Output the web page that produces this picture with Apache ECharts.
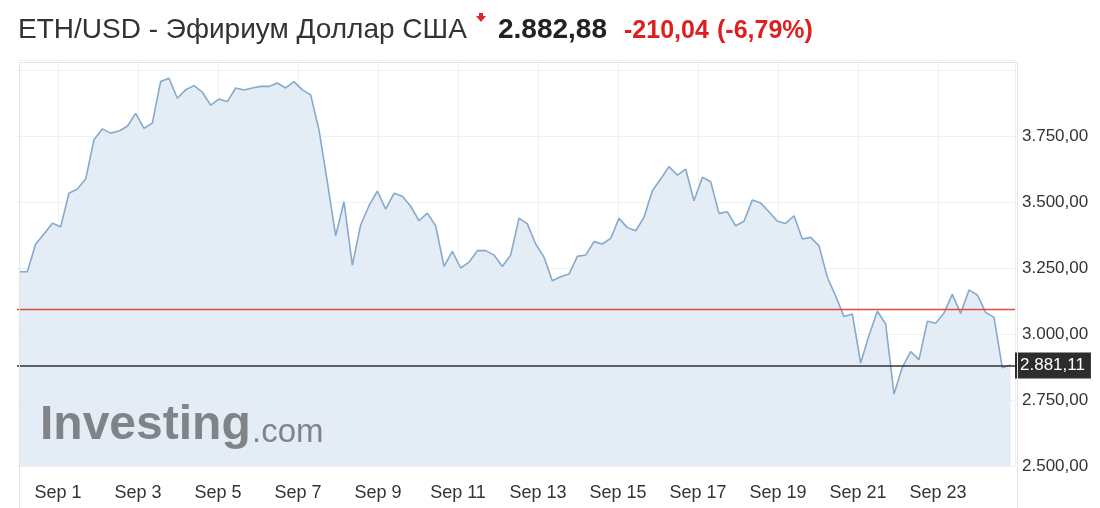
<!DOCTYPE html>
<html>
<head>
<meta charset="utf-8">
<script src="https://cdn.jsdelivr.net/npm/echarts@6/dist/echarts.min.js"></script>
<style>
html,body{margin:0;padding:0;background:#fff;}
#c{width:1100px;height:508px;}
</style>
</head>
<body>
<div id="c"></div>
<script>
// ---- data ----
const titleText = 'ETH/USD - Эфириум Доллар США';
const lastPrice = 2882.88;
const change = -210.04;
const changePct = -6.79;
const prevClose = 3092.92;
const currentLine = 2881.11;

// samples every 5 hours; x = days since Sep 1 00:00
const startDay = -0.975;
const stepDays = 5 / 24;
const prices = [
  3236, 3236, 3341, 3379, 3420, 3406, 3533, 3549, 3587, 3736,
  3777, 3761, 3769, 3787, 3836, 3779, 3799, 3957, 3969, 3893,
  3925, 3941, 3916, 3867, 3890, 3880, 3932, 3924, 3932, 3938,
  3938, 3951, 3932, 3956, 3925, 3906, 3773, 3576, 3372, 3501,
  3261, 3413, 3486, 3541, 3473, 3533, 3522, 3484, 3429, 3458,
  3410, 3256, 3313, 3250, 3272, 3316, 3316, 3299, 3256, 3299,
  3439, 3417, 3341, 3291, 3202, 3217, 3227, 3294, 3299, 3350,
  3341, 3362, 3438, 3403, 3391, 3442, 3543, 3587, 3634, 3602,
  3625, 3505, 3594, 3577, 3457, 3463, 3410, 3427, 3508, 3496,
  3463, 3427, 3419, 3448, 3360, 3366, 3334, 3215, 3144, 3066,
  3076, 2890, 2994, 3086, 3038, 2773, 2874, 2933, 2903, 3048,
  3041, 3080, 3150, 3078, 3167, 3148, 3082, 3063, 2872, 2883
];
const monthLabel = 'Sep';
const yTicks = [2500, 2750, 3000, 3250, 3500, 3750];

// ---- helpers ----
function fmt(v) {
  const s = Math.abs(v).toFixed(2);
  const parts = s.split('.');
  const int = parts[0].replace(/\B(?=(\d{3})+(?!\d))/g, '.');
  return (v < 0 ? '-' : '') + int + ',' + parts[1];
}
const FONT = '"Liberation Sans", Arial, sans-serif';
const seriesData = prices.map((p, i) => [startDay + i * stepDays, p]);
const RED = '#dc4a45';

const chart = echarts.init(document.getElementById('c'));
chart.setOption({
  animation: false,
  backgroundColor: '#fff',
  textStyle: { fontFamily: FONT },
  grid: { left: -22, right: 85, top: 60, bottom: 42, containLabel: false, outerBoundsMode: 'none' },
  xAxis: {
    type: 'value',
    min: -2,
    max: 23.925,
    interval: 2,
    axisLine: { show: false },
    axisTick: { show: false },
    axisLabel: {
      color: '#333', fontSize: 18, margin: 18, fontFamily: FONT,
      formatter: function (v) {
        if (v < 0 || Math.abs(v - Math.round(v)) > 1e-6) return '';
        return monthLabel + ' ' + (Math.round(v) + 1);
      }
    },
    splitLine: { show: true, lineStyle: { color: '#eef1f4', width: 1 } }
  },
  yAxis: {
    type: 'value',
    position: 'right',
    min: 2500,
    max: 4038,
    interval: 250,
    axisLine: { show: false },
    axisTick: { show: false },
    axisLabel: {
      color: '#333', fontSize: 17, margin: 7, fontFamily: FONT,
      formatter: function (v) {
        return yTicks.indexOf(v) >= 0 ? fmt(v) : '';
      }
    },
    splitLine: { show: true, lineStyle: { color: '#eef1f4', width: 1 } }
  },
  series: [{
    type: 'line',
    data: seriesData,
    symbol: 'none',
    color: '#86aacd',
    lineStyle: { color: '#86aacd', width: 1.6 },
    areaStyle: { color: '#e4edf5', opacity: 1 },
    markLine: {
      silent: true,
      symbol: 'none',
      animation: false,
      label: { show: false },
      emphasis: { disabled: true },
      data: [{
        yAxis: prevClose,
        itemStyle: { color: RED },
        lineStyle: { color: RED, width: 1.3, type: 'solid', opacity: 1 }
      }]
    }
  }, {
    type: 'line',
    data: seriesData,
    symbol: 'none',
    silent: true,
    color: '#333',
    lineStyle: { opacity: 0, width: 0 },
    markLine: {
      silent: true,
      symbol: 'none',
      animation: false,
      emphasis: { disabled: true },
      lineStyle: { color: '#333', width: 1.5, type: 'solid' },
      label: {
        show: true, position: 'end', distance: 0,
        formatter: fmt(currentLine),
        color: '#fff', backgroundColor: '#2d2d2d',
        fontSize: 17, fontFamily: FONT, padding: [5, 6, 4, 5]
      },
      data: [{ yAxis: currentLine }]
    }
  }],
  graphic: [
    { type: 'rect', left: 0, top: 55, z: 50, shape: { width: 17, height: 460 }, style: { fill: '#fff' } },
    { type: 'rect', left: 17, top: 60, z: 51, silent: true, shape: { x: 0, y: 0, width: 998, height: 470 }, style: { fill: 'none', stroke: '#e4e4e4', lineWidth: 1 } },
    { type: 'text', left: 18, top: 16, z: 60, style: { text: titleText, font: 'normal 28px ' + FONT, fill: '#333' } },
    { type: 'polygon', z: 60, shape: { points: [[479, 13], [483, 13], [483, 16], [486, 16], [481, 22], [476, 16], [479, 16]] }, style: { fill: '#e0262c' } },
    { type: 'text', left: 498, top: 16, z: 60, style: { text: fmt(lastPrice), font: 'bold 28px ' + FONT, fill: '#222' } },
    { type: 'text', left: 624, top: 19, z: 60, style: { text: fmt(change), font: 'bold 25px ' + FONT, fill: '#dd1f1f' } },
    { type: 'text', left: 717, top: 19, z: 60, style: { text: '(' + fmt(changePct) + '%)', font: 'bold 25px ' + FONT, fill: '#dd1f1f' } },
    { type: 'text', left: 40, top: 402, z: 60, style: { text: 'Investing', font: 'bold 48px ' + FONT, fill: '#808488' } },
    { type: 'text', left: 252, top: 416, z: 60, style: { text: '.com', font: 'normal 33px ' + FONT, fill: '#808488' } }
  ]
});
</script>
</body>
</html>
